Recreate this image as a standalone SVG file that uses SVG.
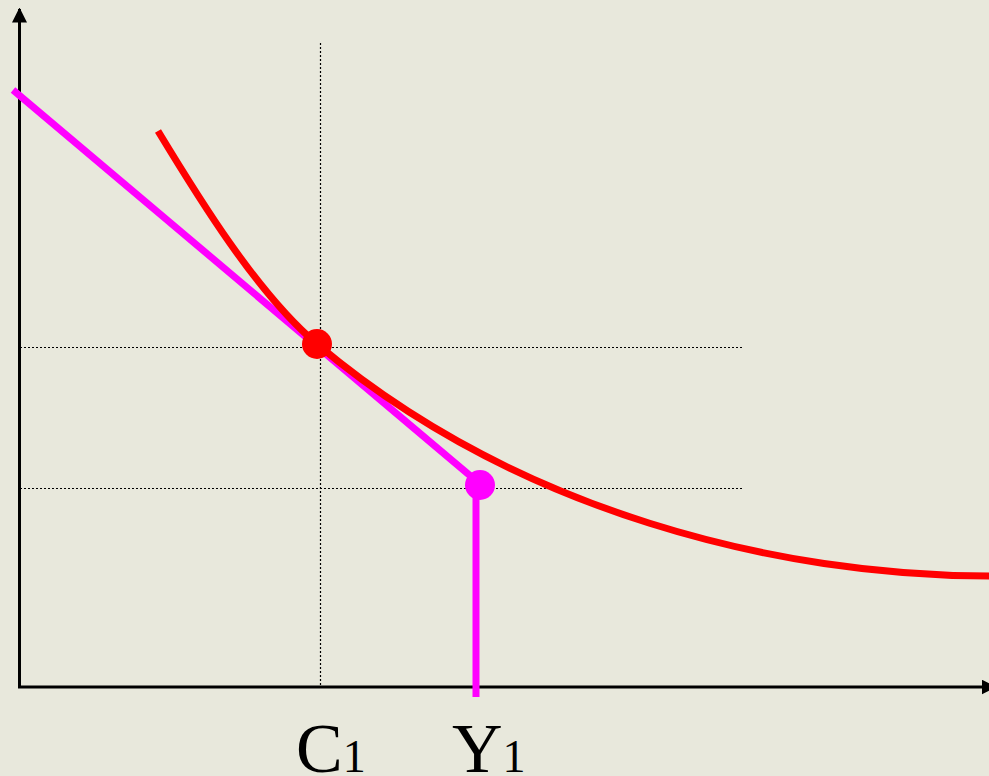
<svg xmlns="http://www.w3.org/2000/svg" width="989" height="776" viewBox="0 0 989 776">
<style>
.axis{stroke:#000;stroke-width:3;fill:none}
.dot{stroke:#000;stroke-width:1.2;stroke-dasharray:2 2;fill:none}
.lbl{font-family:"Liberation Serif","Times New Roman",serif;font-size:70px;fill:#000}
.sub{font-size:46px}
</style>
<defs>
<marker id="arr" viewBox="0 0 10 10" refX="9" refY="5" markerWidth="5" markerHeight="5" orient="auto" markerUnits="strokeWidth">
<path d="M0,0 L10,5 L0,10 z" fill="#000"/>
</marker>
</defs>
<rect width="989" height="776" fill="#E8E8DC"/>
<g id="connectors">
<line class="dot" x1="320.5" y1="43" x2="320.5" y2="687"/>
<line class="dot" x1="20" y1="347.5" x2="742" y2="347.5"/>
<line class="dot" x1="20" y1="488.5" x2="742" y2="488.5"/>
<line id="y-axis" class="axis" x1="19.5" y1="688" x2="19.5" y2="9" marker-end="url(#arr)"/>
<line id="x-axis" class="axis" x1="18" y1="687" x2="995" y2="687" marker-end="url(#arr)"/>
<path id="budget" d="M13,90 L480,484 M476,484 L476,697" stroke="#FF00FF" stroke-width="7" fill="none"/>
<path id="indiff" d="M158,131 C198,197 257,293.4 317,344 C517,512.7 780,576 989,576" stroke="#FF0000" stroke-width="7" fill="none"/>
</g>
<g id="point-red"><circle cx="317" cy="344" r="15" fill="#FF0000"/></g>
<g id="point-magenta"><circle cx="480" cy="485" r="15" fill="#FF00FF"/></g>
<g id="label-c1"><text class="lbl" x="296" y="772">C<tspan class="sub">1</tspan></text></g>
<g id="label-y1"><text class="lbl" x="452" y="772">Y<tspan class="sub">1</tspan></text></g>
</svg>
